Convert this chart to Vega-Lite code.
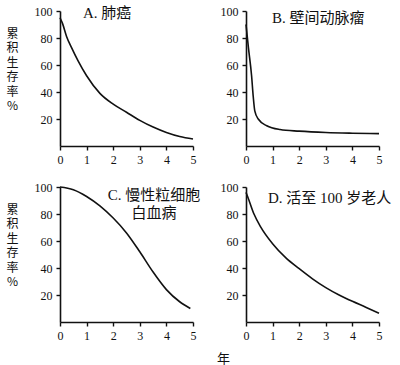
{
  "$schema": "https://vega.github.io/schema/vega-lite/v6.json",
  "padding": 5,
  "background": "white",
  "config": {
    "view": {"stroke": null},
    "font": "Liberation Serif",
    "axis": {"grid": false, "domainColor": "#111", "domainWidth": 1.6, "tickColor": "#111", "tickWidth": 1.4, "tickSize": 4, "labelFont": "Liberation Serif", "labelFontSize": 12, "labelColor": "#111", "labelPadding": 4, "labelFlush": false, "titleFont": "Noto Sans CJK SC", "titleFontWeight": "normal", "titleColor": "#111"},
    "title": {"font": "Liberation Serif, Noto Sans CJK SC", "fontSize": 15, "fontWeight": "normal", "color": "#111", "anchor": "start", "frame": "group", "baseline": "top"}
  },
  "data": {"values": [
    {"panel": "A", "year": 0, "rate": 95},
    {"panel": "A", "year": 0.09, "rate": 91},
    {"panel": "A", "year": 0.25, "rate": 81},
    {"panel": "A", "year": 0.43, "rate": 73},
    {"panel": "A", "year": 0.68, "rate": 63},
    {"panel": "A", "year": 1, "rate": 52},
    {"panel": "A", "year": 1.5, "rate": 39},
    {"panel": "A", "year": 2, "rate": 31},
    {"panel": "A", "year": 2.5, "rate": 25},
    {"panel": "A", "year": 3, "rate": 19},
    {"panel": "A", "year": 3.5, "rate": 14},
    {"panel": "A", "year": 4, "rate": 10},
    {"panel": "A", "year": 4.5, "rate": 7},
    {"panel": "A", "year": 5, "rate": 5.2},
    {"panel": "B", "year": 0, "rate": 90},
    {"panel": "B", "year": 0.09, "rate": 73},
    {"panel": "B", "year": 0.21, "rate": 52},
    {"panel": "B", "year": 0.27, "rate": 37},
    {"panel": "B", "year": 0.33, "rate": 26},
    {"panel": "B", "year": 0.46, "rate": 20},
    {"panel": "B", "year": 0.78, "rate": 15},
    {"panel": "B", "year": 1.28, "rate": 12.2},
    {"panel": "B", "year": 2, "rate": 11},
    {"panel": "B", "year": 3, "rate": 10},
    {"panel": "B", "year": 4, "rate": 9.5},
    {"panel": "B", "year": 5, "rate": 9.2},
    {"panel": "C", "year": 0, "rate": 100},
    {"panel": "C", "year": 0.5, "rate": 98},
    {"panel": "C", "year": 1, "rate": 93},
    {"panel": "C", "year": 1.5, "rate": 86},
    {"panel": "C", "year": 2, "rate": 77},
    {"panel": "C", "year": 2.5, "rate": 66},
    {"panel": "C", "year": 3, "rate": 52},
    {"panel": "C", "year": 3.5, "rate": 37},
    {"panel": "C", "year": 4, "rate": 24},
    {"panel": "C", "year": 4.5, "rate": 15},
    {"panel": "C", "year": 4.9, "rate": 10},
    {"panel": "D", "year": 0, "rate": 96},
    {"panel": "D", "year": 0.06, "rate": 93},
    {"panel": "D", "year": 0.3, "rate": 80},
    {"panel": "D", "year": 0.55, "rate": 70.5},
    {"panel": "D", "year": 1, "rate": 58},
    {"panel": "D", "year": 1.5, "rate": 47.5},
    {"panel": "D", "year": 2, "rate": 39.5},
    {"panel": "D", "year": 2.5, "rate": 32},
    {"panel": "D", "year": 3, "rate": 25.5},
    {"panel": "D", "year": 3.5, "rate": 20},
    {"panel": "D", "year": 4, "rate": 15.3},
    {"panel": "D", "year": 4.5, "rate": 11},
    {"panel": "D", "year": 5, "rate": 6.5}
  ]},
  "columns": 2,
  "spacing": {"row": 41, "column": 53},
  "bounds": "flush",
  "concat": [
    {
      "width": 133, "height": 135,
      "title": {"text": "A. 肺癌", "dx": 23, "offset": -16},
      "transform": [{"filter": "datum.panel === 'A'"}],
      "mark": {"type": "line", "color": "#111", "strokeWidth": 1.6, "interpolate": "monotone"},
      "encoding": {
        "x": {"field": "year", "type": "quantitative", "scale": {"domain": [0, 5], "nice": false}, "axis": {"title": null, "values": [0, 1, 2, 3, 4, 5]}},
        "y": {"field": "rate", "type": "quantitative", "scale": {"domain": [0, 100], "nice": false}, "axis": {"title": ["累", "积", "生", "存", "率", "%"], "titleAngle": 0, "titleX": -48, "titleY": 17, "titleAlign": "center", "titleBaseline": "top", "titleFontSize": 12, "titleLineHeight": 14.5, "values": [20, 40, 60, 80, 100]}}
      }
    },
    {
      "width": 133, "height": 135,
      "title": {"text": "B. 壁间动脉瘤", "dx": 26, "offset": -21},
      "transform": [{"filter": "datum.panel === 'B'"}],
      "mark": {"type": "line", "color": "#111", "strokeWidth": 1.6, "interpolate": "monotone"},
      "encoding": {
        "x": {"field": "year", "type": "quantitative", "scale": {"domain": [0, 5], "nice": false}, "axis": {"title": null, "values": [0, 1, 2, 3, 4, 5]}},
        "y": {"field": "rate", "type": "quantitative", "scale": {"domain": [0, 100], "nice": false}, "axis": {"title": null, "values": [20, 40, 60, 80, 100]}}
      }
    },
    {
      "width": 133, "height": 135,
      "title": {"text": ["C. 慢性粒细胞", "白血病"], "dx": 94, "align": "center", "lineHeight": 18, "offset": -40},
      "transform": [{"filter": "datum.panel === 'C'"}],
      "mark": {"type": "line", "color": "#111", "strokeWidth": 1.6, "interpolate": "monotone"},
      "encoding": {
        "x": {"field": "year", "type": "quantitative", "scale": {"domain": [0, 5], "nice": false}, "axis": {"title": null, "values": [0, 1, 2, 3, 4, 5]}},
        "y": {"field": "rate", "type": "quantitative", "scale": {"domain": [0, 100], "nice": false}, "axis": {"title": ["累", "积", "生", "存", "率", "%"], "titleAngle": 0, "titleX": -48, "titleY": 17, "titleAlign": "center", "titleBaseline": "top", "titleFontSize": 12, "titleLineHeight": 14.5, "values": [20, 40, 60, 80, 100]}}
      }
    },
    {
      "width": 133, "height": 135,
      "title": {"text": "D. 活至 100 岁老人", "dx": 22, "offset": -25},
      "transform": [{"filter": "datum.panel === 'D'"}],
      "mark": {"type": "line", "color": "#111", "strokeWidth": 1.6, "interpolate": "monotone"},
      "encoding": {
        "x": {"field": "year", "type": "quantitative", "scale": {"domain": [0, 5], "nice": false}, "axis": {"title": "年", "titleX": -23, "titleY": 30, "titleAlign": "center", "titleBaseline": "top", "titleFontSize": 13, "values": [0, 1, 2, 3, 4, 5]}},
        "y": {"field": "rate", "type": "quantitative", "scale": {"domain": [0, 100], "nice": false}, "axis": {"title": null, "values": [20, 40, 60, 80, 100]}}
      }
    }
  ]
}
